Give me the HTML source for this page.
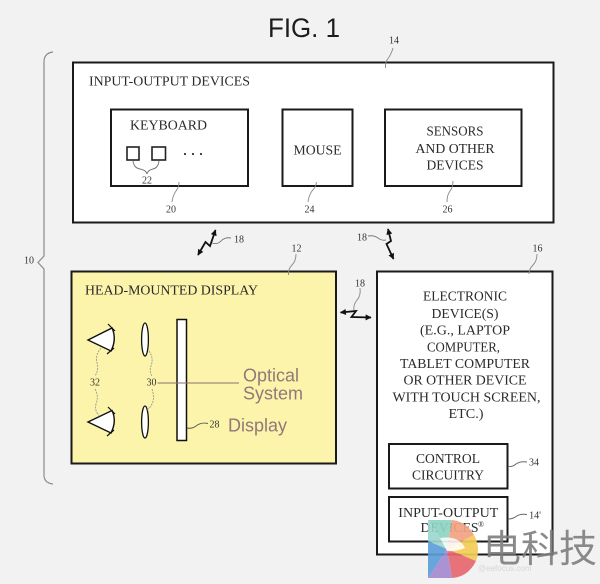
<!DOCTYPE html>
<html><head><meta charset="utf-8"><style>
html,body{margin:0;padding:0;background:#f2f2f2;}
svg{display:block}
</style></head><body>
<svg width="600" height="584" viewBox="0 0 600 584" xmlns="http://www.w3.org/2000/svg">
<defs>
<marker id="ah" viewBox="0 0 10 10" refX="9" refY="5" markerWidth="7" markerHeight="6" orient="auto-start-reverse" markerUnits="userSpaceOnUse">
<path d="M0,0 L10,5 L0,10 z" fill="#111"/>
</marker>
</defs>
<rect x="0" y="0" width="600" height="584" fill="#f2f2f2"/>

<!-- FIG. 1 -->
<text x="268" y="37" font-family="Liberation Sans, sans-serif" font-size="27" fill="#1c1c1c" textLength="72" lengthAdjust="spacingAndGlyphs">FIG. 1</text>

<!-- brace 10 -->
<path d="M53,52 Q44,53 44,62 L44,256 L38,262.5 L44,269 L44,475 Q44,483 53,484" fill="none" stroke="#8c8c8c" stroke-width="1.2"/>
<text x="29" y="263.5" font-family="Liberation Serif, serif" font-size="10" fill="#333" text-anchor="middle">10</text>

<!-- Top box 14 -->
<rect x="73" y="62.5" width="480.5" height="160" fill="#fff" stroke="#1a1a1a" stroke-width="2"/>
<text x="394" y="43.5" font-family="Liberation Serif, serif" font-size="10" fill="#333" text-anchor="middle">14</text>
<path d="M393,48 Q391,55 387,60 Q385,64 385.5,68" fill="none" stroke="#888" stroke-width="0.9"/>
<text x="89" y="85.5" font-family="Liberation Serif, serif" font-size="13.5" fill="#2a2a2a" textLength="161" lengthAdjust="spacingAndGlyphs">INPUT-OUTPUT DEVICES</text>

<!-- Keyboard -->
<rect x="111" y="109.5" width="137" height="76.5" fill="#fff" stroke="#1a1a1a" stroke-width="2"/>
<text x="130" y="129.5" font-family="Liberation Serif, serif" font-size="13.5" fill="#2a2a2a" textLength="77" lengthAdjust="spacingAndGlyphs">KEYBOARD</text>
<rect x="127" y="147" width="12" height="13" fill="#fff" stroke="#222" stroke-width="1.6"/>
<rect x="152" y="147" width="13.5" height="13" fill="#fff" stroke="#222" stroke-width="1.6"/>
<circle cx="185" cy="154" r="1.1" fill="#333"/>
<circle cx="193" cy="154" r="1.1" fill="#333"/>
<circle cx="201" cy="154" r="1.1" fill="#333"/>
<path d="M133,161 Q134,168 140,169 Q146,170 147,174" fill="none" stroke="#777" stroke-width="0.9"/>
<path d="M159,161 Q158,168 153,169 Q148,170 147,174" fill="none" stroke="#777" stroke-width="0.9"/>
<text x="147" y="183.5" font-family="Liberation Serif, serif" font-size="10" fill="#333" text-anchor="middle">22</text>
<text x="171" y="212.5" font-family="Liberation Serif, serif" font-size="10" fill="#333" text-anchor="middle">20</text>
<path d="M172,202 Q173,195 176,191 Q179,187 179,182" fill="none" stroke="#888" stroke-width="0.9"/>

<!-- Mouse -->
<rect x="282.5" y="109.5" width="70" height="76.5" fill="#fff" stroke="#1a1a1a" stroke-width="2"/>
<text x="317.5" y="154.5" font-family="Liberation Serif, serif" font-size="13.5" fill="#2a2a2a" text-anchor="middle" textLength="48" lengthAdjust="spacingAndGlyphs">MOUSE</text>
<text x="309.5" y="212.5" font-family="Liberation Serif, serif" font-size="10" fill="#333" text-anchor="middle">24</text>
<path d="M308,202 Q309,195 312,191 Q316,187 316.5,182" fill="none" stroke="#888" stroke-width="0.9"/>

<!-- Sensors -->
<rect x="385" y="109.5" width="136.5" height="76.5" fill="#fff" stroke="#1a1a1a" stroke-width="2"/>
<text x="455" y="135.5" font-family="Liberation Serif, serif" font-size="13.5" fill="#2a2a2a" text-anchor="middle" textLength="57" lengthAdjust="spacingAndGlyphs">SENSORS</text>
<text x="455" y="153" font-family="Liberation Serif, serif" font-size="13.5" fill="#2a2a2a" text-anchor="middle" textLength="79" lengthAdjust="spacingAndGlyphs">AND OTHER</text>
<text x="455" y="169.5" font-family="Liberation Serif, serif" font-size="13.5" fill="#2a2a2a" text-anchor="middle" textLength="57" lengthAdjust="spacingAndGlyphs">DEVICES</text>
<text x="447.5" y="212.5" font-family="Liberation Serif, serif" font-size="10" fill="#333" text-anchor="middle">26</text>
<path d="M447,202 Q447,195 450,191 Q453,187 453,181" fill="none" stroke="#888" stroke-width="0.9"/>

<!-- Lightning 1 -->
<polyline points="198,255 205.5,242 210,246 215.5,230" fill="none" stroke="#111" stroke-width="1.8" marker-start="url(#ah)" marker-end="url(#ah)"/>
<path d="M212,243 Q218,245 222,240 Q226,237 231,238" fill="none" stroke="#777" stroke-width="0.9"/>
<text x="239" y="242.5" font-family="Liberation Serif, serif" font-size="10" fill="#333" text-anchor="middle">18</text>

<!-- Lightning 2 -->
<polyline points="388,229 391,241 386.5,244 393.5,259" fill="none" stroke="#111" stroke-width="1.8" marker-start="url(#ah)" marker-end="url(#ah)"/>
<path d="M368,236 Q374,235 378,238 Q382,241 386,240" fill="none" stroke="#777" stroke-width="0.9"/>
<text x="362" y="240.5" font-family="Liberation Serif, serif" font-size="10" fill="#333" text-anchor="middle">18</text>

<!-- HMD box 12 -->
<rect x="71.5" y="271.5" width="264.5" height="192" fill="#fcf4aa" stroke="#1a1a1a" stroke-width="2"/>
<text x="296.5" y="251.5" font-family="Liberation Serif, serif" font-size="10" fill="#333" text-anchor="middle">12</text>
<path d="M296,254 Q296,261 292,265 Q288,269 288.5,275" fill="none" stroke="#888" stroke-width="0.9"/>
<text x="85" y="294.5" font-family="Liberation Serif, serif" font-size="13.5" fill="#2a2a2a" textLength="173" lengthAdjust="spacingAndGlyphs">HEAD-MOUNTED DISPLAY</text>

<!-- eyes -->
<path d="M88,340 L112,328 Q117,339 111,351 Z" fill="#fff" stroke="#111" stroke-width="1.4"/>
<path d="M108,324 L115,331 M107,354 L114,348" stroke="#111" stroke-width="1.2"/>
<path d="M88,422 L112,410.5 Q117,421 111,433 Z" fill="#fff" stroke="#111" stroke-width="1.4"/>
<path d="M108,407 L115,414 M107,436 L114,430" stroke="#111" stroke-width="1.2"/>
<!-- lenses -->
<ellipse cx="145" cy="339.5" rx="3.4" ry="16.5" fill="#fff" stroke="#111" stroke-width="1.3"/>
<ellipse cx="145" cy="422" rx="3.4" ry="16" fill="#fff" stroke="#111" stroke-width="1.3"/>
<!-- display -->
<rect x="177" y="319.5" width="9.5" height="121" fill="#fff" stroke="#111" stroke-width="1.5"/>
<!-- leaders -->
<path d="M101,348 Q95,355 97,363 Q99,370 95,376" fill="none" stroke="#999" stroke-width="0.9" stroke-dasharray="2,1"/>
<path d="M95,389 Q99,396 96,404 Q94,412 101,417" fill="none" stroke="#999" stroke-width="0.9" stroke-dasharray="2,1"/>
<path d="M149,351 Q154,358 151,366 Q149,371 152,376" fill="none" stroke="#999" stroke-width="0.9" stroke-dasharray="2,1"/>
<path d="M152,389 Q155,398 152,404 Q150,408 147,410" fill="none" stroke="#999" stroke-width="0.9" stroke-dasharray="2,1"/>
<text x="95" y="385.5" font-family="Liberation Serif, serif" font-size="10" fill="#333" text-anchor="middle">32</text>
<text x="151.5" y="385.5" font-family="Liberation Serif, serif" font-size="10" fill="#333" text-anchor="middle">30</text>
<line x1="157.5" y1="383" x2="239" y2="383" stroke="#8a7272" stroke-width="1"/>
<text x="243" y="381.5" font-family="Liberation Sans, sans-serif" font-size="18" fill="#937878">Optical</text>
<text x="243" y="399.5" font-family="Liberation Sans, sans-serif" font-size="18" fill="#937878">System</text>
<path d="M187,428 Q192,429 196,426 Q201,422 208,423.5" fill="none" stroke="#555" stroke-width="0.9"/>
<text x="214.5" y="427.5" font-family="Liberation Serif, serif" font-size="10" fill="#333" text-anchor="middle">28</text>
<text x="228" y="431.5" font-family="Liberation Sans, sans-serif" font-size="18" fill="#937878">Display</text>

<!-- Lightning 3 -->
<polyline points="340.5,312.5 356,311 351.5,317 371,317.5" fill="none" stroke="#111" stroke-width="1.8" marker-start="url(#ah)" marker-end="url(#ah)"/>
<path d="M360,288 Q361,296 357,300 Q353,305 354,310" fill="none" stroke="#888" stroke-width="0.9"/>
<text x="360" y="286.5" font-family="Liberation Serif, serif" font-size="10" fill="#333" text-anchor="middle">18</text>

<!-- Electronic device 16 -->
<rect x="377" y="271.5" width="175.5" height="283" fill="#fff" stroke="#1a1a1a" stroke-width="2"/>
<text x="537.5" y="251.5" font-family="Liberation Serif, serif" font-size="10" fill="#333" text-anchor="middle">16</text>
<path d="M537,254 Q537,261 533,265 Q529,269 529,274" fill="none" stroke="#888" stroke-width="0.9"/>
<g font-family="Liberation Serif, serif" font-size="13.5" fill="#2a2a2a" text-anchor="middle" lengthAdjust="spacingAndGlyphs">
<text x="465" y="300.7" textLength="84" lengthAdjust="spacingAndGlyphs">ELECTRONIC</text>
<text x="465" y="318" textLength="67" lengthAdjust="spacingAndGlyphs">DEVICE(S)</text>
<text x="465" y="334.7" textLength="90" lengthAdjust="spacingAndGlyphs">(E.G., LAPTOP</text>
<text x="463.5" y="351.4" textLength="73" lengthAdjust="spacingAndGlyphs">COMPUTER,</text>
<text x="465" y="368" textLength="130" lengthAdjust="spacingAndGlyphs">TABLET COMPUTER</text>
<text x="465" y="384.7" textLength="123" lengthAdjust="spacingAndGlyphs">OR OTHER DEVICE</text>
<text x="466.5" y="401.4" textLength="148" lengthAdjust="spacingAndGlyphs">WITH TOUCH SCREEN,</text>
<text x="466" y="418" textLength="35" lengthAdjust="spacingAndGlyphs">ETC.)</text>
</g>

<!-- Control circuitry -->
<rect x="389" y="444" width="118.5" height="44.5" fill="#fff" stroke="#1a1a1a" stroke-width="2"/>
<text x="448" y="463" font-family="Liberation Serif, serif" font-size="13.5" fill="#2a2a2a" text-anchor="middle" textLength="64" lengthAdjust="spacingAndGlyphs">CONTROL</text>
<text x="448" y="479.5" font-family="Liberation Serif, serif" font-size="13.5" fill="#2a2a2a" text-anchor="middle" textLength="72" lengthAdjust="spacingAndGlyphs">CIRCUITRY</text>
<path d="M508,466.5 Q513,467 516,464 Q520,461 527,462" fill="none" stroke="#666" stroke-width="0.9"/>
<text x="534" y="465.5" font-family="Liberation Serif, serif" font-size="10" fill="#333" text-anchor="middle">34</text>

<!-- I/O devices 14' -->
<rect x="389" y="497" width="118.5" height="44.5" fill="#fff" stroke="#1a1a1a" stroke-width="2"/>
<text x="448.3" y="517" font-family="Liberation Serif, serif" font-size="13.5" fill="#2a2a2a" text-anchor="middle" textLength="100" lengthAdjust="spacingAndGlyphs">INPUT-OUTPUT</text>
<text x="449.5" y="532" font-family="Liberation Serif, serif" font-size="13.5" fill="#2a2a2a" text-anchor="middle" textLength="58" lengthAdjust="spacingAndGlyphs">DEVICES</text>
<text x="478" y="527" font-family="Liberation Serif, serif" font-size="8" fill="#333">®</text>
<path d="M508,519 Q513,519 516,516.5 Q520,513.5 527,514.5" fill="none" stroke="#666" stroke-width="0.9"/>
<text x="535" y="518.5" font-family="Liberation Serif, serif" font-size="10" fill="#333" text-anchor="middle">14'</text>

<!-- watermark logo -->
<g opacity="0.92">
<polygon points="428,520 452,520 447,549" fill="#8fd4c4"/>
<polygon points="428,520 447,549 428,541" fill="#9fd6cf"/>
<path d="M452,520 Q467,522 474,535 L447,549 Z" fill="#f1a283"/>
<path d="M474,535 Q481,548 476,561 L447,549 Z" fill="#f4cd57"/>
<path d="M476,561 Q468,577 452,578 L447,549 Z" fill="#e8686f"/>
<polygon points="452,578 428,578 447,549" fill="#a68ad0"/>
<polygon points="428,578 428,541 447,549" fill="#5d9fd8"/>
<path d="M440,538 Q459,535 465,548 Q455,552 447,551 Z" fill="#ffffff" opacity="0.85"/>
</g>
<text x="483" y="562" font-family="Liberation Sans, 'Noto Sans CJK SC', sans-serif" font-size="38" fill="#7e7e7e" opacity="0.9">电科技</text>
<text x="478" y="571" font-family="Liberation Sans, sans-serif" font-size="8" fill="#d6d6d6">@eefocus.com</text>
</svg>
</body></html>
